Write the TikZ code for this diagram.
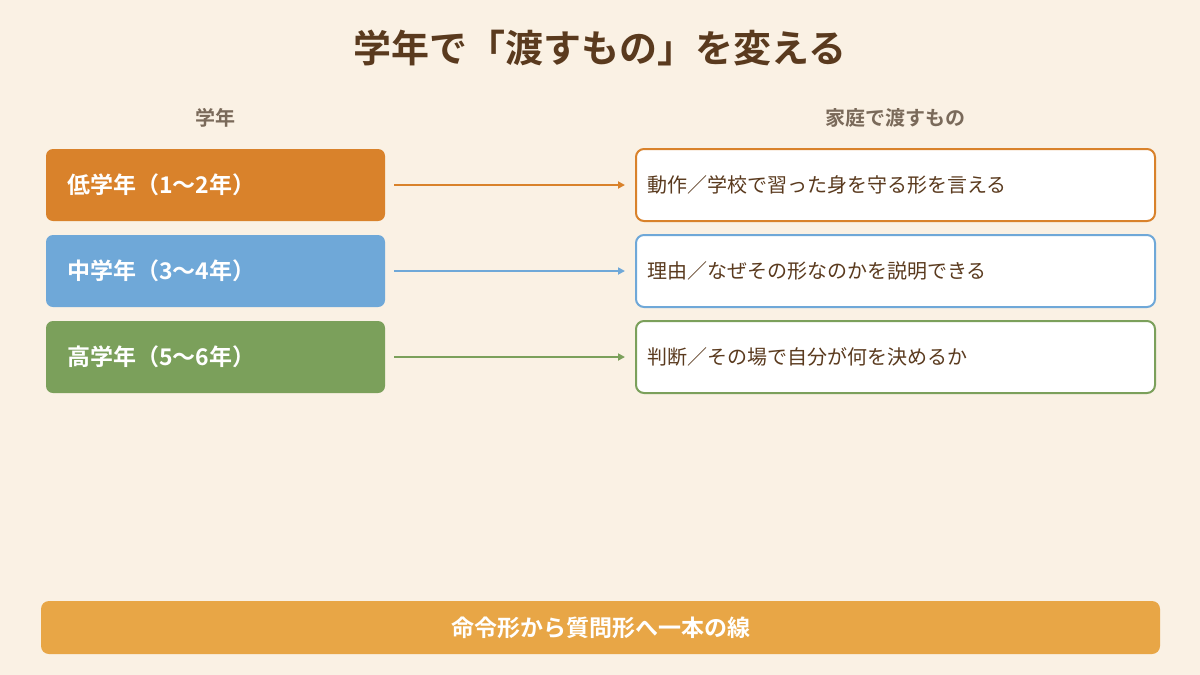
\documentclass[tikz,border=0pt]{standalone}
\usepackage{fontspec}
\setmainfont{Noto Sans CJK JP}[BoldFont={Noto Sans CJK JP Bold}]
\usetikzlibrary{arrows.meta}
\definecolor{bg}{HTML}{FAF1E4}
\definecolor{brn}{HTML}{5A3A1E}
\definecolor{gbr}{HTML}{7A6A5A}
\definecolor{cO}{HTML}{D9822B}
\definecolor{cB}{HTML}{6FA8D8}
\definecolor{cG}{HTML}{7BA05B}
\definecolor{cY}{HTML}{E8A646}
\begin{document}
\begin{tikzpicture}[x=1pt,y=-1pt,
 grade/.style={rounded corners=7pt,minimum width=339pt,minimum height=72pt,inner sep=0pt,text=white,font=\fontsize{23}{26}\selectfont\bfseries,text width=297pt,align=left},
 give/.style={draw=#1,line width=2pt,fill=white,rounded corners=8pt,minimum width=519pt,minimum height=72pt,inner sep=0pt,text=brn,font=\fontsize{20}{24}\selectfont,text width=497pt,align=left},
 arr/.style={draw=#1,line width=1.8pt,-{Triangle[length=7pt,width=7pt]}},
 head/.style={text=gbr,font=\fontsize{20}{24}\selectfont\bfseries}]
\fill[bg] (0,0) rectangle (1200,675);
\useasboundingbox (0,0) rectangle (1200,675);
\node[text=brn,font=\fontsize{38}{44}\selectfont\bfseries] (title) at (600,48) {学年で「渡すもの」を変える};
\node[head] (h1) at (215,118) {学年};
\node[head] (h2) at (895,118) {家庭で渡すもの};
\node[grade,fill=cO] (g1) at (215.5,185) {低学年（1〜2年）};
\node[grade,fill=cB] (g2) at (215.5,271) {中学年（3〜4年）};
\node[grade,fill=cG] (g3) at (215.5,357) {高学年（5〜6年）};
\node[give=cO] (r1) at (895.5,185) {動作／学校で習った身を守る形を言える};
\node[give=cB] (r2) at (895.5,271) {理由／なぜその形なのかを説明できる};
\node[give=cG] (r3) at (895.5,357) {判断／その場で自分が何を決めるか};
\draw[arr=cO] ([xshift=9pt]g1.east) -- ([xshift=-10pt]r1.west);
\draw[arr=cB] ([xshift=9pt]g2.east) -- ([xshift=-10pt]r2.west);
\draw[arr=cG] ([xshift=9pt]g3.east) -- ([xshift=-10pt]r3.west);
\node[fill=cY,rounded corners=8pt,minimum width=1119pt,minimum height=53pt,inner sep=0pt,text=white,font=\fontsize{23}{26}\selectfont\bfseries] (bar) at (600.5,627.5) {命令形から質問形へ一本の線};
\end{tikzpicture}
\end{document}
